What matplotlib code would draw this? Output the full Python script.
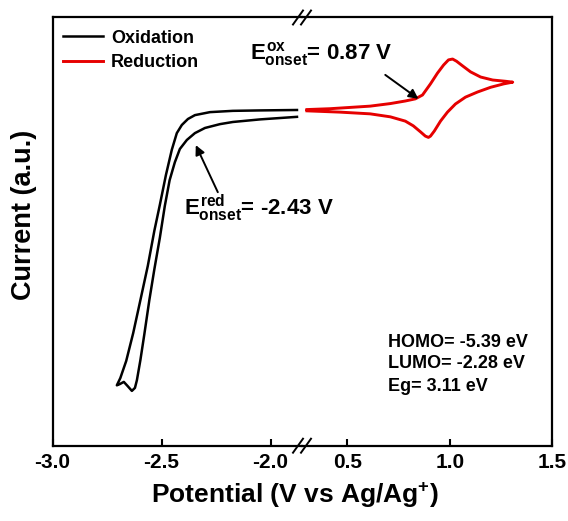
import numpy as np
import matplotlib
matplotlib.use('Agg')
from matplotlib import pyplot as plt
from matplotlib.lines import Line2D

plt.rcParams['font.family'] = ['Liberation Sans', 'DejaVu Sans']
plt.rcParams['font.weight'] = 'bold'
plt.rcParams['mathtext.fontset'] = 'custom'
plt.rcParams['mathtext.rm'] = 'Liberation Sans:bold'
plt.rcParams['mathtext.it'] = 'Liberation Sans:bold'
plt.rcParams['mathtext.bf'] = 'Liberation Sans:bold'
plt.rcParams['mathtext.sf'] = 'Liberation Sans:bold'

# cathodic scan (black), potential in V vs Ag/Ag+, current in a.u.
ox_v = [-1.879, -2.049, -2.173, -2.278, -2.347, -2.379, -2.407, -2.430, -2.453,
        -2.480, -2.508, -2.533, -2.563, -2.597, -2.630, -2.662, -2.689, -2.705,
        -2.691, -2.673, -2.655, -2.636, -2.622, -2.613, -2.597, -2.579, -2.556,
        -2.533, -2.508, -2.485, -2.463, -2.439, -2.416, -2.384, -2.347, -2.301,
        -2.232, -2.173, -2.049, -1.879]
ox_i = [7.84, 7.83, 7.82, 7.79, 7.72, 7.63, 7.49, 7.30, 6.91,
        6.32, 5.62, 5.02, 4.20, 3.40, 2.63, 1.98, 1.58, 1.41,
        1.44, 1.49, 1.39, 1.28, 1.35, 1.53, 2.00, 2.60, 3.40,
        4.12, 4.85, 5.60, 6.20, 6.62, 6.93, 7.14, 7.30, 7.42,
        7.51, 7.56, 7.62, 7.68]

# anodic scan (red)
red_v = [0.302, 0.415, 0.513, 0.611, 0.710, 0.783, 0.832, 0.867, 0.906, 0.940,
         0.970, 0.994, 1.014, 1.033, 1.063, 1.102, 1.151, 1.210, 1.274, 1.308,
         1.264, 1.200, 1.136, 1.077, 1.028, 0.989, 0.955, 0.925, 0.906, 0.896,
         0.881, 0.857, 0.822, 0.783, 0.710, 0.611, 0.464, 0.302]
red_i = [7.85, 7.87, 7.90, 7.93, 7.99, 8.05, 8.10, 8.19, 8.45, 8.70,
         8.89, 9.01, 9.03, 8.98, 8.87, 8.73, 8.61, 8.54, 8.51, 8.49,
         8.45, 8.37, 8.26, 8.14, 7.98, 7.79, 7.58, 7.35, 7.23, 7.20,
         7.23, 7.33, 7.47, 7.58, 7.68, 7.75, 7.79, 7.82]

e_ox_onset = 0.87
e_red_onset = -2.43
levels = ['HOMO= -5.39 eV', 'LUMO= -2.28 eV', 'Eg= 3.11 eV']

left_ticks = [-3.0, -2.5, -2.0]
right_ticks = [0.5, 1.0, 1.5]

W, H = 568, 521
fig = plt.figure(figsize=(W / 100, H / 100), dpi=100)
x0, xb, x1 = 52.5, 302, 552
yb, yt = 445.7, 17.5
ax1 = fig.add_axes([x0 / W, 1 - yb / H, (xb - x0) / W, (yb - yt) / H])
ax2 = fig.add_axes([xb / W, 1 - yb / H, (x1 - xb) / W, (yb - yt) / H])
ax2.patch.set_visible(False)

l1, = ax1.plot(ox_v, ox_i, color='black', lw=1.8, label='Oxidation')
l2, = ax2.plot(red_v, red_i, color='#e60000', lw=2.1, label='Reduction')

ax1.set_xlim(-3.0, -1.856)
ax2.set_xlim(0.278, 1.5)
for ax in (ax1, ax2):
    ax.set_ylim(0, 10)
    ax.set_yticks([])
    for s in ax.spines.values():
        s.set_linewidth(1.6)
    ax.tick_params(axis='x', direction='in', length=5, width=1.5,
                   labelsize=15, pad=5)
ax1.spines['right'].set_visible(False)
ax2.spines['left'].set_visible(False)
ax1.set_xticks(left_ticks)
ax1.set_xticklabels(['%.1f' % t for t in left_ticks])
ax2.set_xticks(right_ticks)
ax2.set_xticklabels(['%.1f' % t for t in right_ticks])

# axis break marks
for yp in (yt, yb):
    for dx in (-4, 4):
        fig.add_artist(Line2D([(xb + dx - 5) / W, (xb + dx + 5) / W],
                              [1 - (yp + 7) / H, 1 - (yp - 7) / H],
                              color='black', lw=1.4))

ax1.legend(handles=[l1, l2], loc='upper left', bbox_to_anchor=(0.0, 0.997),
           frameon=False, fontsize=13, handlelength=2.2, handletextpad=0.45,
           labelspacing=0.42, borderaxespad=0.2)

# onset annotations
ax1.text(-2.095, 9.03, r'$E^{ox}_{onset}$' + '= %.2f V' % e_ox_onset,
         fontsize=16, va='baseline', clip_on=False)
ax2.annotate('', xy=(0.847, 8.10), xytext=(0.685, 8.66),
             arrowprops=dict(arrowstyle='-|>', color='black', lw=1.4,
                             mutation_scale=14, shrinkA=0, shrinkB=0))
ax1.text(-2.398, 5.39, r'$E^{red}_{onset}$' + '= %.2f V' % e_red_onset,
         fontsize=16, va='baseline', clip_on=False)
ax1.annotate('', xy=(-2.343, 7.02), xytext=(-2.242, 5.92),
             arrowprops=dict(arrowstyle='-|>', color='black', lw=1.4,
                             mutation_scale=14, shrinkA=0, shrinkB=0))

for k, s in enumerate(levels):
    ax2.text(0.700, [2.30, 1.81, 1.28][k], s, fontsize=13, va='baseline')

fig.text(295 / W, 1 - 503 / H, r'Potential (V vs Ag/Ag$^{+}$)',
         fontsize=19, ha='center', va='baseline')
fig.text(24 / W, 1 - 215 / H, 'Current (a.u.)', fontsize=19.5,
         rotation=90, ha='center', va='center')

plt.savefig('out.png', dpi=100)
